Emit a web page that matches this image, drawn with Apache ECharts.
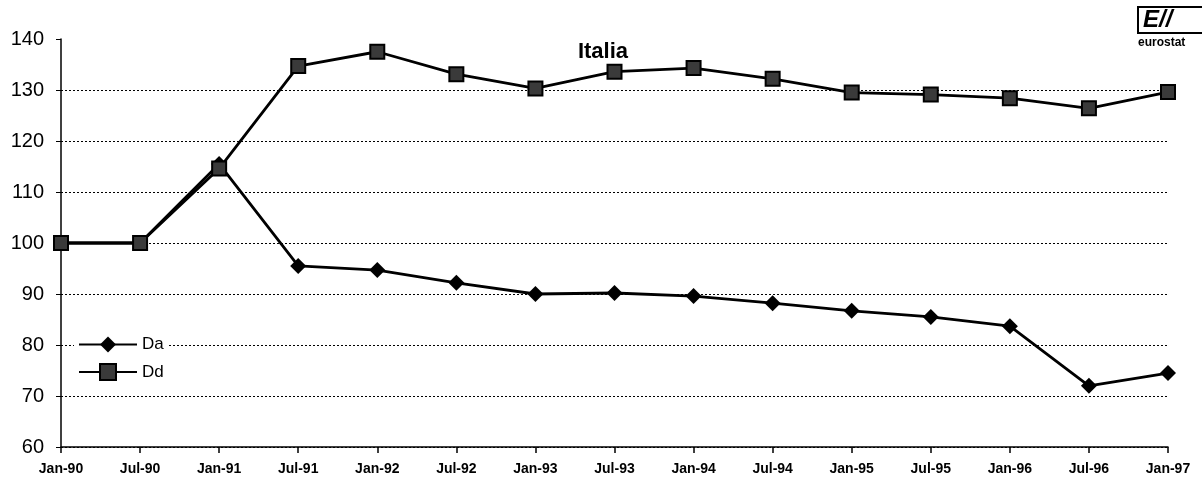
<!DOCTYPE html>
<html>
<head>
<meta charset="utf-8">
<script src="https://cdn.jsdelivr.net/npm/echarts@6/dist/echarts.min.js"></script>
<style>
  html, body { margin: 0; padding: 0; background: #fff; }
  #chart { width: 1202px; height: 479px; }
</style>
</head>
<body>
<div id="chart"></div>
<script>
const categories = ['Jan-90', 'Jul-90', 'Jan-91', 'Jul-91', 'Jan-92', 'Jul-92', 'Jan-93', 'Jul-93',
  'Jan-94', 'Jul-94', 'Jan-95', 'Jul-95', 'Jan-96', 'Jul-96', 'Jan-97']
const daValues = [100, 100, 115.5, 95.5, 94.7, 92.2, 90, 90.2, 89.6, 88.2, 86.7, 85.5, 83.7, 72, 74.5]
const ddValues = [100, 100, 114.6, 134.7, 137.5, 133.1, 130.3, 133.6, 134.3, 132.2, 129.5, 129.1, 128.4, 126.4, 129.6]

const chart = echarts.init(document.getElementById('chart'))

chart.setOption({
  animation: false,
  backgroundColor: '#fff',
  title: {
    text: 'Italia',
    left: 598,
    top: 36,
    textAlign: 'center',
    textStyle: { fontFamily: 'Liberation Sans', fontSize: 22, fontWeight: 'bold', color: '#000' }
  },
  legend: {
    orient: 'vertical',
    left: 74,
    top: 334,
    padding: [2, 4, 2, 4],
    backgroundColor: '#fff',
    itemWidth: 58,
    itemHeight: 20,
    itemGap: 10,
    textStyle: { fontFamily: 'Liberation Sans', fontSize: 17, color: '#000' },
    data: ['Da', 'Dd']
  },
  grid: { left: 61, right: 34, top: 39, bottom: 32 },
  xAxis: {
    type: 'category',
    data: categories,
    boundaryGap: false,
    axisLine: { lineStyle: { color: '#000', width: 1.5 } },
    axisTick: { show: true, length: 6, inside: false, lineStyle: { color: '#000', width: 1.5 } },
    axisLabel: { color: '#000', fontFamily: 'Liberation Sans', fontSize: 14, fontWeight: 'bold', margin: 15 },
    splitLine: { show: false }
  },
  yAxis: {
    type: 'value',
    min: 60,
    max: 140,
    interval: 10,
    axisLine: { show: true, lineStyle: { color: '#000', width: 1.5 } },
    axisTick: { show: true, length: 5, lineStyle: { color: '#000' } },
    axisLabel: { color: '#000', fontFamily: 'Liberation Sans', fontSize: 20, margin: 17 },
    splitLine: {
      show: true,
      showMaxLine: false,
      lineStyle: { color: '#000', type: [2, 2], width: 1 }
    }
  },
  series: [
    {
      name: 'Da',
      type: 'line',
      data: daValues,
      symbol: 'diamond',
      symbolSize: 16,
      lineStyle: { color: '#000', width: 2.8 },
      itemStyle: { color: '#000' },
      z: 3
    },
    {
      name: 'Dd',
      type: 'line',
      data: ddValues,
      symbol: 'rect',
      symbolSize: 14,
      lineStyle: { color: '#000', width: 2.8 },
      itemStyle: { color: '#3a3a3a', borderColor: '#000', borderWidth: 2 },
      z: 4
    }
  ],
  graphic: [
    {
      type: 'group',
      left: 1137,
      top: 6,
      children: [
        { type: 'rect', shape: { x: 0, y: 0, width: 65, height: 26 }, style: { fill: '#fff', stroke: '#000', lineWidth: 2 } },
        { type: 'text', style: { x: 5, y: 1, text: 'E//', font: 'italic bold 24px Liberation Sans', fill: '#000' } },
        { type: 'text', style: { x: 0, y: 30, text: 'eurostat', font: 'bold 12px Liberation Sans', fill: '#000' } }
      ]
    }
  ]
})
</script>
</body>
</html>
